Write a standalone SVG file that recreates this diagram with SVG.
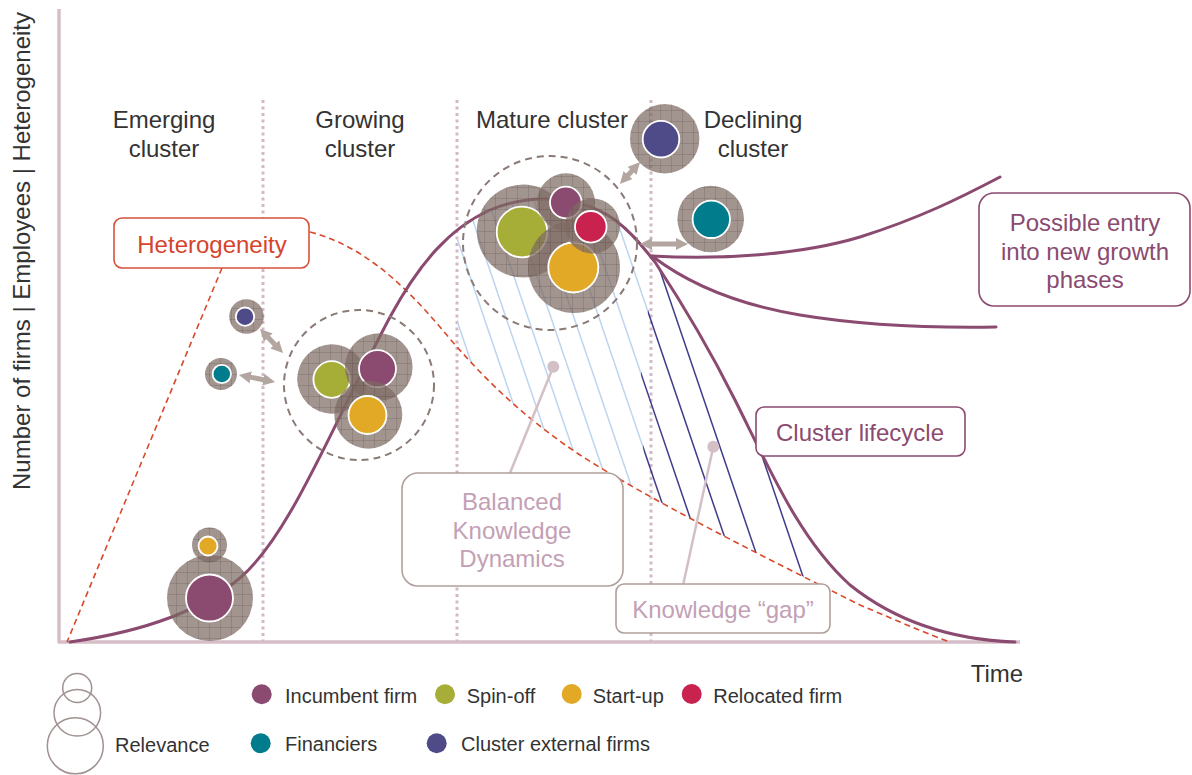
<svg xmlns="http://www.w3.org/2000/svg" width="1192" height="775" viewBox="0 0 1192 775">
<style>
text{font-family:"Liberation Sans",Arial,sans-serif}
.lbl{font-size:24px;fill:#333;text-anchor:middle}
.leg{font-size:20px;fill:#333}
.axis{stroke:#d5bec8;stroke-width:3.5;fill:none}
.phase{stroke:#d3b9c5;stroke-width:3;stroke-dasharray:3 3.5;fill:none}
.curve{stroke:#8b4a6f;stroke-width:3;fill:none;stroke-linecap:round}
.red{stroke:#d8492b;stroke-width:1.6;stroke-dasharray:6 4;fill:none}
.lb{stroke:#bcd5ef;stroke-width:1.5}
.nv{stroke:#3f3c8a;stroke-width:1.5}
.dcirc{stroke:#8a7a75;stroke-width:2;stroke-dasharray:7 5;fill:none}
.ring{fill:#7e6b64;fill-opacity:.72}
.grid{fill:url(#grid)}
.in{stroke:#fff;stroke-width:1.8}
.inc{fill:#8b4a6f}.spin{fill:#a6ae38}.start{fill:#e2a927}.reloc{fill:#c9224f}.fin{fill:#007c8c}.ext{fill:#4f4a88}
.arr{stroke:#b3a59f;stroke-width:5;fill:none;marker-start:url(#ah);marker-end:url(#ah)}
.box{fill:#fff;stroke-width:1.6}
.ptr{stroke:#d3bfc6;stroke-width:2.5}
.rel{fill:none;stroke:#a09290;stroke-width:1.5}
</style>
<defs>
<pattern id="grid" width="11" height="11" patternUnits="userSpaceOnUse">
<path d="M0,0.5 H11 M0.5,0 V11" stroke="#5e4c46" stroke-opacity="0.3" stroke-width="0.8" fill="none"/>
</pattern>
<marker id="ah" viewBox="0 0 10 10" refX="3" refY="5" markerWidth="12" markerHeight="12" markerUnits="userSpaceOnUse" orient="auto-start-reverse">
<path d="M0,0 L10,5 L0,10 Z" fill="#b3a59f"/>
</marker>
<clipPath id="underMain"><path d="M70,642 C140,632 200,612 240,578 C290,535 330,430 390,317 C420,262 450,228 490,210 C530,193 580,195 615,220 C635,235 645,250 655,262 C680,300 710,350 735,400 C770,470 800,540 850,585 C900,625 960,640 1015,642 L1015,700 L70,700 Z"/></clipPath>
<clipPath id="aboveRed"><path d="M310,232 C360,245 400,280 440,327 C480,375 520,415 580,455 C650,500 760,555 860,605 C900,622 930,635 950,642 L1192,642 L1192,0 L310,0 Z"/></clipPath>
<clipPath id="leftB"><path d="M457,0 L655,0 L653,256 L648,310 L641,373 L643,447 L650,520 L650,700 L457,700 Z"/></clipPath>
<clipPath id="rightB"><path d="M655,0 L653,256 L648,310 L641,373 L643,447 L650,520 L650,700 L1100,700 L1100,0 Z"/></clipPath>
</defs>
<rect width="1192" height="775" fill="#fff"/>

<g id="axes">
<line class="axis" x1="59" y1="9" x2="59" y2="643"/>
<line class="axis" x1="58" y1="642" x2="1020" y2="642"/>
<text class="lbl" transform="translate(30,251) rotate(-90)">Number of firms | Employees | Heterogeneity</text>
<text class="lbl" x="997" y="682">Time</text>
</g>

<g id="phases">
<line class="phase" x1="263" y1="100" x2="263" y2="641"/>
<line class="phase" x1="457" y1="100" x2="457" y2="641"/>
<line class="phase" x1="651" y1="100" x2="651" y2="641"/>
<text class="lbl" x="164" y="128">Emerging</text><text class="lbl" x="164" y="157">cluster</text>
<text class="lbl" x="360" y="128">Growing</text><text class="lbl" x="360" y="157">cluster</text>
<text class="lbl" x="552" y="128">Mature cluster</text>
<text class="lbl" x="753" y="128">Declining</text><text class="lbl" x="753" y="157">cluster</text>
</g>

<g id="hatching" clip-path="url(#underMain)">
<g clip-path="url(#aboveRed)">
<g clip-path="url(#leftB)">
<line class="lb" x1="399" y1="150" x2="572.4" y2="660"/>
<line class="lb" x1="427" y1="150" x2="600.4" y2="660"/>
<line class="lb" x1="449" y1="150" x2="622.4" y2="660"/>
<line class="lb" x1="471" y1="150" x2="644.4" y2="660"/>
<line class="lb" x1="494" y1="150" x2="667.4" y2="660"/>
<line class="lb" x1="517" y1="150" x2="690.4" y2="660"/>
<line class="lb" x1="542" y1="150" x2="715.4" y2="660"/>
<line class="lb" x1="565" y1="150" x2="738.4" y2="660"/>
<line class="lb" x1="593" y1="150" x2="766.4" y2="660"/>
<line class="lb" x1="619" y1="150" x2="792.4" y2="660"/>
<line class="lb" x1="658" y1="150" x2="831.4" y2="660"/>
</g>
<g clip-path="url(#rightB)">
<line class="nv" x1="542" y1="150" x2="715.4" y2="660"/>
<line class="nv" x1="565" y1="150" x2="738.4" y2="660"/>
<line class="nv" x1="593" y1="150" x2="766.4" y2="660"/>
<line class="nv" x1="619" y1="150" x2="792.4" y2="660"/>
<line class="nv" x1="658" y1="150" x2="831.4" y2="660"/>
</g>
</g>
</g>

<g id="heterogeneity-curve">
<path class="red" d="M222,268 L67,642"/>
<path class="red" d="M310,232 C360,245 400,280 440,327 C480,375 520,415 580,455 C650,500 760,555 860,605 C900,622 930,635 950,642"/>
</g>

<g id="lifecycle-curves">
<path class="curve" d="M70,642 C140,632 200,612 240,578 C290,535 330,430 390,317 C420,262 450,228 490,210 C530,193 580,195 615,220 C635,235 645,250 655,262 C680,300 710,350 735,400 C770,470 800,540 850,585 C900,625 960,640 1015,642"/>
<path class="curve" d="M652,256 C720,260 800,255 860,237 C920,218 960,198 1000,177"/>
<path class="curve" d="M652,256 C690,285 740,305 800,315 C860,325 930,328 996,327"/>
</g>

<g id="cluster-outlines">
<circle class="dcirc" cx="359" cy="385" r="75"/>
<circle class="dcirc" cx="550" cy="243" r="87"/>
</g>

<g id="emerging-incumbent"><circle class="ring" cx="210" cy="598" r="43"/><circle class="grid" cx="210" cy="598" r="43"/><circle class="in inc" cx="209.5" cy="598" r="23.5"/></g>
<g id="emerging-startup"><circle class="ring" cx="209.5" cy="545" r="17.5"/><circle class="grid" cx="209.5" cy="545" r="17.5"/><circle class="in start" cx="208" cy="546" r="9.5"/></g>

<g id="growing-external"><circle class="ring" cx="246.5" cy="316.5" r="17.3"/><circle class="grid" cx="246.5" cy="316.5" r="17.3"/><circle class="in ext" cx="245" cy="316.7" r="9.2"/></g>
<g id="growing-financier"><circle class="ring" cx="221" cy="374" r="16"/><circle class="grid" cx="221" cy="374" r="16"/><circle class="in fin" cx="221.8" cy="374" r="9.2"/></g>
<g id="growing-spinoff"><circle class="ring" cx="332" cy="379" r="34.7"/><circle class="grid" cx="332" cy="379" r="34.7"/><circle class="in spin" cx="331.7" cy="379.5" r="18.3"/></g>
<g id="growing-incumbent"><circle class="ring" cx="378.8" cy="367" r="33.8"/><circle class="grid" cx="378.8" cy="367" r="33.8"/><circle class="in inc" cx="377.5" cy="368.7" r="18.5"/></g>
<g id="growing-startup"><circle class="ring" cx="368.3" cy="414.7" r="34"/><circle class="grid" cx="368.3" cy="414.7" r="34"/><circle class="in start" cx="367.5" cy="415" r="19"/></g>

<g id="mature-spinoff"><circle class="ring" cx="523.3" cy="231" r="46.5"/><circle class="grid" cx="523.3" cy="231" r="46.5"/><circle class="in spin" cx="522" cy="232" r="25.3"/></g>
<g id="mature-incumbent"><circle class="ring" cx="566" cy="202" r="28.8"/><circle class="grid" cx="566" cy="202" r="28.8"/><circle class="in inc" cx="565.8" cy="202.5" r="15.8"/></g>
<g id="mature-startup"><circle class="ring" cx="574" cy="267" r="46"/><circle class="grid" cx="574" cy="267" r="46"/><circle class="in start" cx="573.3" cy="267.5" r="25"/></g>
<g id="mature-relocated"><circle class="ring" cx="592.5" cy="226" r="27.5"/><circle class="grid" cx="592.5" cy="226" r="27.5"/><circle class="in reloc" cx="590.8" cy="226.8" r="15.8"/></g>

<g id="declining-external"><circle class="ring" cx="664.7" cy="138.8" r="34.7"/><circle class="grid" cx="664.7" cy="138.8" r="34.7"/><circle class="in ext" cx="661" cy="139.2" r="18.3"/></g>
<g id="declining-financier"><circle class="ring" cx="710.7" cy="219" r="33.3"/><circle class="grid" cx="710.7" cy="219" r="33.3"/><circle class="in fin" cx="711.3" cy="219.3" r="18.7"/></g>

<g id="connectors">
<line class="arr" x1="265.8" y1="335" x2="277.2" y2="347"/>
<line class="arr" x1="247.2" y1="376.6" x2="266.8" y2="380.4"/>
<line class="arr" x1="625.6" y1="177.8" x2="634.4" y2="168.2"/>
<line class="arr" x1="648.4" y1="244" x2="679.6" y2="244"/>
<line class="ptr" x1="510" y1="473" x2="553.3" y2="366.7"/>
<circle cx="553.3" cy="366.7" r="6" fill="#d3bfc6"/>
<line class="ptr" x1="683.3" y1="584" x2="713.3" y2="446.7"/>
<circle cx="713.3" cy="446.7" r="6" fill="#d3bfc6"/>
</g>

<g id="label-heterogeneity">
<rect class="box" x="114" y="218" width="195" height="50" rx="8" stroke="#d5513b"/>
<text class="lbl" x="212" y="253" style="fill:#d5442b">Heterogeneity</text>
</g>
<g id="label-possible-entry">
<rect class="box" x="979" y="193" width="211" height="113" rx="15" stroke="#8b4a6f"/>
<text class="lbl" x="1085" y="231" style="fill:#8b4a6f">Possible entry</text>
<text class="lbl" x="1085" y="260" style="fill:#8b4a6f">into new growth</text>
<text class="lbl" x="1085" y="288" style="fill:#8b4a6f">phases</text>
</g>
<g id="label-lifecycle">
<rect class="box" x="756" y="407" width="209" height="49" rx="8" stroke="#8b4a6f"/>
<text class="lbl" x="860" y="441" style="fill:#8b4a6f">Cluster lifecycle</text>
</g>
<g id="label-balanced">
<rect class="box" x="402" y="473" width="221" height="113" rx="16" stroke="#b0a09c"/>
<text class="lbl" x="512" y="510" style="fill:#c3a0b5">Balanced</text>
<text class="lbl" x="512" y="539" style="fill:#c3a0b5">Knowledge</text>
<text class="lbl" x="512" y="567" style="fill:#c3a0b5">Dynamics</text>
</g>
<g id="label-gap">
<rect class="box" x="616" y="584" width="214" height="49" rx="8" stroke="#b0a09c"/>
<text class="lbl" x="723" y="618" style="fill:#c3a0b5">Knowledge “gap”</text>
</g>

<g id="legend">
<circle class="rel" cx="77.2" cy="688" r="14.5"/>
<circle class="rel" cx="77.3" cy="712.7" r="23.3"/>
<circle class="rel" cx="75.3" cy="745.8" r="28"/>
<text class="leg" x="115" y="752">Relevance</text>
<circle class="inc" cx="261.7" cy="694.3" r="10"/><text class="leg" x="285" y="703">Incumbent firm</text>
<circle class="spin" cx="445" cy="694.3" r="10"/><text class="leg" x="466.7" y="703">Spin-off</text>
<circle class="start" cx="571.7" cy="694" r="10"/><text class="leg" x="592.7" y="703">Start-up</text>
<circle class="reloc" cx="691.7" cy="694" r="10"/><text class="leg" x="713.3" y="703">Relocated firm</text>
<circle class="fin" cx="260.7" cy="743.3" r="10"/><text class="leg" x="285" y="751">Financiers</text>
<circle class="ext" cx="436.7" cy="743.3" r="10"/><text class="leg" x="461" y="751">Cluster external firms</text>
</g>
</svg>
